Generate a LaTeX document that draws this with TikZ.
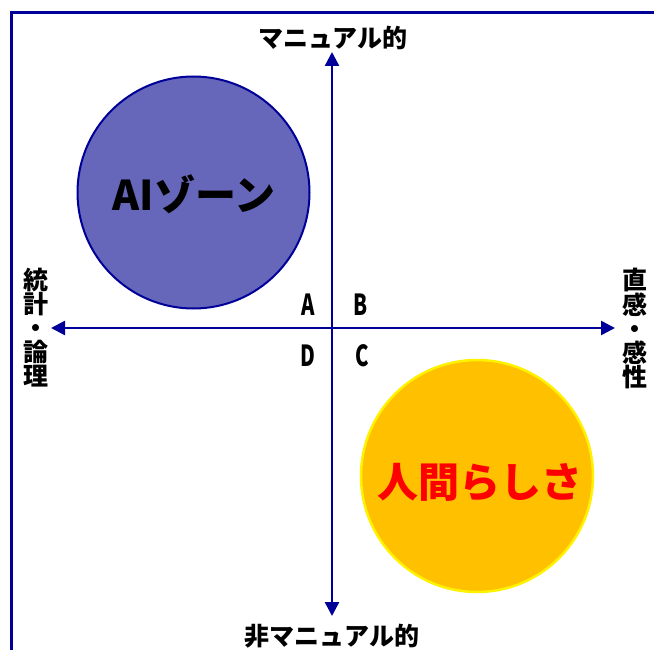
\documentclass[tikz,border=0pt]{standalone}
\usepackage{fontspec}
\setmainfont{Noto Sans CJK JP}
\usetikzlibrary{arrows.meta}
\definecolor{navy}{HTML}{000099}
\definecolor{zoneblue}{HTML}{6666BB}
\definecolor{zoneorange}{HTML}{FFC000}
\tikzset{
  axis/.style={draw=navy, line width=2.5pt, -{Triangle[length=14pt,width=14pt]}},
  axislabel/.style={font=\fontsize{25}{24}\selectfont\bfseries, text=black, inner sep=0pt, align=center},
  quad/.style={font=\fontsize{29}{29}\selectfont\bfseries, text=black, inner sep=0pt, xscale=0.7},
  zone/.style={circle, inner sep=0pt},
}
\begin{document}
\begin{tikzpicture}[x=1pt,y=-1pt]
\useasboundingbox (0,0) rectangle (654,650);
\begin{scope}
\clip (0,0) rectangle (654,650);
\draw[navy, line width=3pt] (11,13) rectangle (720,720);
\end{scope}
% circles
\node[zone, minimum size=232pt, fill=zoneblue, draw=navy, line width=2pt] (ai) at (193.5,192.5) {};
\node[zone, minimum size=232pt, fill=zoneorange, draw=yellow, line width=2.5pt] (hu) at (477,476) {};
\node[font=\fontsize{41}{41}\selectfont\bfseries, text=black, inner sep=0pt] (aitxt) at (194,194) {AIゾーン};
\node[font=\fontsize{41}{41}\selectfont\bfseries, text=red, inner sep=0pt] (hutxt) at (480,482) {人間らしさ};
% axis labels
\node[axislabel] (top) at (333,38) {マニュアル的};
\node[axislabel] (bot) at (332,636) {非マニュアル的};
\node[axislabel] (left) at (36,328) {統\\計\\・\\論\\理};
\node[axislabel] (right) at (635,328) {直\\感\\・\\感\\性};
% axes
\coordinate (c) at (332,328);
\coordinate (ytop) at (332,52);
\coordinate (ybot) at (332,616);
\coordinate (xl) at (51,328);
\coordinate (xr) at (615,328);
\draw[axis] (c) -- (ytop);
\draw[axis] (c) -- (ybot);
\draw[axis] (c) -- (xl);
\draw[axis] (c) -- (xr);
% quadrant letters
\node[quad] (A) at (308,305) {A};
\node[quad] (B) at (361,305) {B};
\node[quad] (D) at (308,356) {D};
\node[quad] (C) at (362,356) {C};
\end{tikzpicture}
\end{document}
